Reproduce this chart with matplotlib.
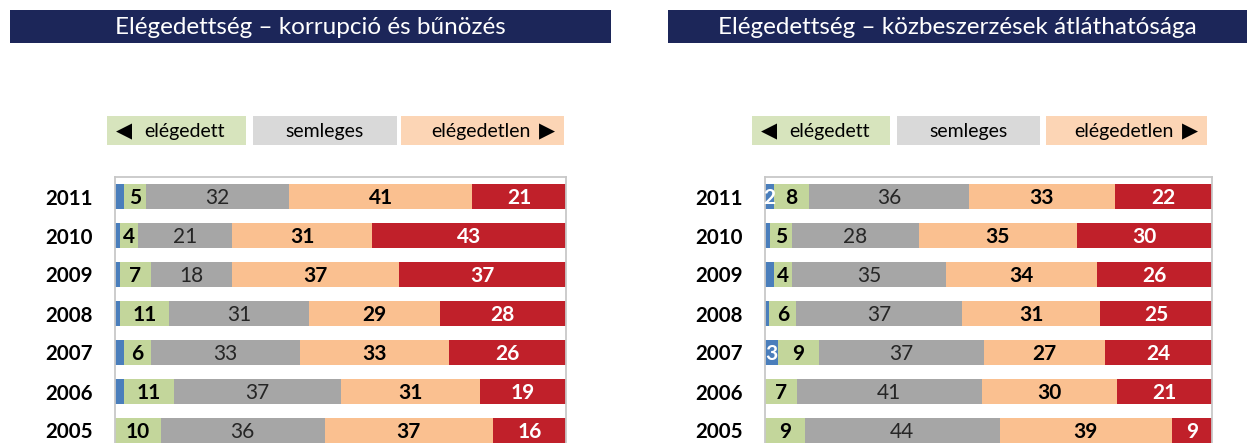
import matplotlib
matplotlib.use('Agg')
import matplotlib.pyplot as plt
from matplotlib.patches import Rectangle
import numpy as np

W, H = 1247, 443

years = ['2011', '2010', '2009', '2008', '2007', '2006', '2005']

# korrupció és bűnözés
left_blue = [2, 1, 1, 1, 2, 2, 0]
left_green = [5, 4, 7, 11, 6, 11, 10]
left_gray = [32, 21, 18, 31, 33, 37, 36]
left_orange = [41, 31, 37, 29, 33, 31, 37]
left_red = [21, 43, 37, 28, 26, 19, 16]
left_blue_labels = ['', '', '', '', '', '', '']

# közbeszerzések átláthatósága
right_blue = [2, 1, 2, 1, 3, 0, 0]
right_green = [8, 5, 4, 6, 9, 7, 9]
right_gray = [36, 28, 35, 37, 37, 41, 44]
right_orange = [33, 35, 34, 31, 27, 30, 39]
right_red = [22, 30, 26, 25, 24, 21, 9]
right_blue_labels = ['2', '', '', '', '3', '', '']

titles = ['Elégedettség – korrupció és bűnözés',
          'Elégedettség – közbeszerzések átláthatósága']
legend_labels = ['elégedett', 'semleges', 'elégedetlen']

colors = ['#4a7ebb', '#c3d69b', '#a6a6a6', '#fac090', '#c0202a']
txt_colors = ['white', 'black', '#262626', 'black', 'white']
txt_weights = ['bold', 'bold', 'normal', 'bold', 'bold']
leg_colors = ['#d7e4bd', '#d9d9d9', '#fcd5b5']
navy = '#1c2659'
FONT = ['Lato', 'DejaVu Sans']
plt.rcParams['font.family'] = FONT

fig = plt.figure(figsize=(W / 100, H / 100), dpi=100)

bg = fig.add_axes([0, 0, 1, 1])
bg.set_xlim(0, W)
bg.set_ylim(H, 0)
bg.axis('off')


def px_axes(x0, y0, x1, y1):
    return fig.add_axes([x0 / W, 1 - y1 / H, (x1 - x0) / W, (y1 - y0) / H])


def draw_panel(ax, series, blue_labels):
    data = np.array(series, dtype=float)
    totals = data.sum(axis=0)
    shares = data / totals * 100
    y = np.arange(len(years))
    left = np.zeros(len(years))
    for k in range(len(series)):
        ax.barh(y, shares[k], left=left, height=0.64, color=colors[k],
                edgecolor='none', zorder=2)
        for i in range(len(years)):
            if k == 0:
                lab = blue_labels[i]
            else:
                lab = str(series[k][i])
            if lab:
                ax.text(left[i] + shares[k][i] / 2, y[i] + 0.03, lab,
                        ha='center', va='center', fontsize=15,
                        color=txt_colors[k], fontweight=txt_weights[k],
                        zorder=3)
        left += shares[k]
    ax.set_xlim(0, 100)
    ax.set_ylim(6.5, -0.5)
    ax.set_yticks(y)
    ax.set_yticklabels(years, fontsize=14.8, fontweight='bold')
    ax.tick_params(axis='y', length=0, pad=16)
    ax.set_xticks([])
    for s in ax.spines.values():
        s.set_color('#c8c8c8')
        s.set_linewidth(1.3)


ax1 = px_axes(115, 177, 566, 450)
draw_panel(ax1, [left_blue, left_green, left_gray, left_orange, left_red],
           left_blue_labels)
ax2 = px_axes(765, 177, 1212, 450)
draw_panel(ax2, [right_blue, right_green, right_gray, right_orange, right_red],
           right_blue_labels)

# title bars
title_boxes = [(10, 611), (668, 1247)]
for (x0, x1), t in zip(title_boxes, titles):
    bg.add_patch(Rectangle((x0, 10), x1 - x0, 33, color=navy, lw=0))
    bg.text((x0 + x1) / 2, 27, t, ha='center', va='center', color='white',
            fontsize=17.5)

# legend boxes
leg_boxes = [
    [(107, 246), (253, 397), (401, 564)],
    [(752, 890), (897, 1040), (1046, 1207)],
]
for boxes in leg_boxes:
    for j, (x0, x1) in enumerate(boxes):
        bg.add_patch(Rectangle((x0, 116), x1 - x0, 29, color=leg_colors[j], lw=0))
    (g0, g1), (s0, s1), (o0, o1) = boxes
    bg.text(g0 + 9, 131, '◀', ha='left', va='center', fontsize=15,
            family='DejaVu Sans')
    bg.text(g0 + 37, 131, legend_labels[0], ha='left', va='center',
            fontsize=14)
    bg.text((s0 + s1) / 2, 131, legend_labels[1], ha='center', va='center',
            fontsize=14)
    bg.text(o1 - 9, 131, '▶', ha='right', va='center', fontsize=15,
            family='DejaVu Sans')
    bg.text(o1 - 33, 131, legend_labels[2], ha='right', va='center',
            fontsize=14)

fig.savefig('out.png', dpi=100)
